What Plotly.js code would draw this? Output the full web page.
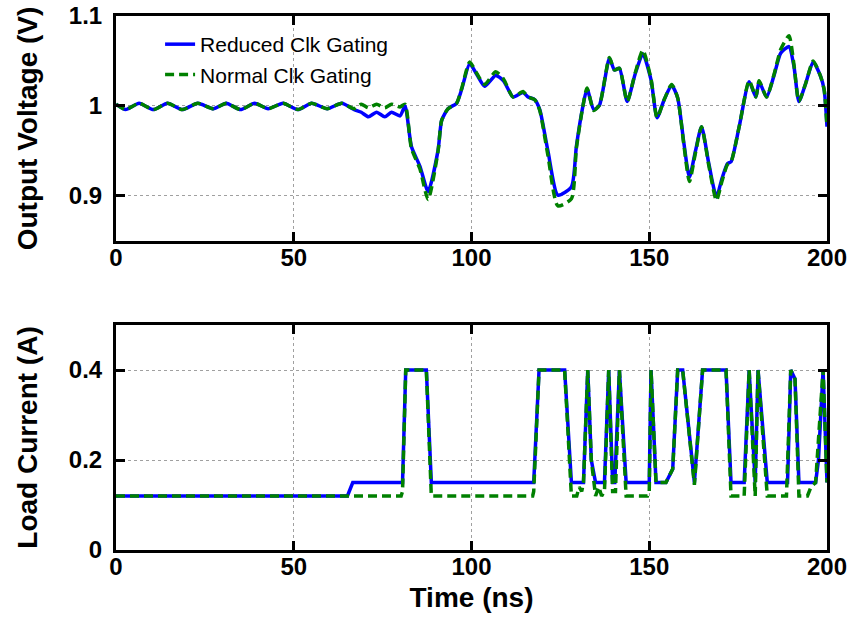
<!DOCTYPE html>
<html><head><meta charset="utf-8">
<script src="https://cdn.plot.ly/plotly-3.0.1.min.js"></script>
<style>html,body{margin:0;padding:0;background:#fff}#chart{width:853px;height:619px}</style>
</head><body><div id="chart"></div>
<script>
// ---- Data ----
const timeV = [0, 2.7, 6.5, 10.5, 14.5, 18.7, 23, 27.4, 31, 35, 39, 42.8, 47, 51.2, 55, 59.4, 63.5, 67, 69, 71, 73.3, 75.6, 77.5, 79.9, 81.3, 83.1, 85.5, 87.8, 90.6, 91.6, 93.4, 95.8, 97.2, 99.5, 101.5, 103.7, 106.8, 109, 111.7, 114.5, 115.9, 117.8, 119.2, 121.5, 124.3, 128.1, 129.5, 131.3, 132.5, 134.4, 136, 138.8, 140.2, 141.6, 143.8, 146, 148.2, 150.5, 152.2, 154.2, 156.3, 158, 159.7, 161.3, 163, 164.7, 166.8, 168.9, 170.5, 172, 173, 175.3, 178.1, 180, 180.9, 183, 185.1, 187, 189.3, 190.7, 192.1, 194, 196.1, 198.2, 199.2, 200];
const voltageReduced = [1.002, 0.996, 1.003, 0.996, 1.003, 0.996, 1.003, 0.997, 1.003, 0.996, 1.003, 0.997, 1.003, 0.996, 1.003, 0.997, 1.003, 0.996, 0.993, 0.988, 0.993, 0.988, 0.993, 0.989, 1.000, 0.955, 0.933, 0.905, 0.951, 0.984, 0.997, 1.003, 1.018, 1.047, 1.035, 1.022, 1.034, 1.028, 1.010, 1.015, 1.010, 1.007, 0.996, 0.950, 0.901, 0.910, 0.955, 0.999, 1.019, 0.996, 1.001, 1.053, 1.040, 1.042, 1.005, 1.035, 1.058, 1.029, 0.987, 1.007, 1.023, 1.009, 0.960, 0.921, 0.950, 0.977, 0.935, 0.899, 0.920, 0.936, 0.938, 0.977, 1.027, 1.010, 1.027, 1.010, 1.034, 1.059, 1.066, 1.044, 1.005, 1.025, 1.049, 1.033, 1.018, 0.977];
const voltageNormal = [1.002, 0.996, 1.003, 0.996, 1.003, 0.996, 1.003, 0.997, 1.003, 0.996, 1.003, 0.997, 1.003, 0.996, 1.003, 0.997, 1.003, 0.997, 1.002, 0.998, 1.002, 0.998, 1.002, 0.999, 1.002, 0.953, 0.930, 0.896, 0.950, 0.984, 0.997, 1.003, 1.019, 1.049, 1.036, 1.024, 1.038, 1.030, 1.010, 1.016, 1.010, 1.007, 0.995, 0.945, 0.889, 0.897, 0.953, 0.999, 1.020, 0.995, 1.001, 1.054, 1.040, 1.042, 1.005, 1.036, 1.062, 1.030, 0.987, 1.007, 1.024, 1.009, 0.958, 0.916, 0.948, 0.977, 0.933, 0.895, 0.917, 0.935, 0.938, 0.977, 1.028, 1.010, 1.028, 1.010, 1.035, 1.063, 1.078, 1.046, 1.005, 1.025, 1.050, 1.033, 1.018, 0.977];

const timeIReduced = [0, 65.1, 66.6, 80.6, 81.5, 87.3, 88.7, 117.5, 119, 126.2, 128.1, 131.5, 132.7, 133.7, 134.9, 137.4, 138.6, 139.7, 140.3, 141.6, 143.5, 150, 150.5, 151.9, 154.7, 156.6, 158, 159.4, 162.7, 165, 171.6, 173, 176.7, 178.1, 179.8, 180.6, 183.2, 188.9, 189.8, 191, 192.1, 196.8, 197.6, 198.9, 200];
const currentReduced = [0.12, 0.12, 0.15, 0.15, 0.40, 0.40, 0.15, 0.15, 0.40, 0.40, 0.15, 0.15, 0.40, 0.20, 0.15, 0.15, 0.40, 0.15, 0.15, 0.40, 0.15, 0.15, 0.40, 0.15, 0.15, 0.18, 0.40, 0.40, 0.15, 0.40, 0.40, 0.15, 0.15, 0.40, 0.15, 0.40, 0.15, 0.15, 0.40, 0.38, 0.15, 0.15, 0.20, 0.40, 0.15];
const timeINormal = [0, 80.2, 80.6, 81.5, 87.3, 88.7, 117.2, 117.5, 119.0, 126.2, 128.1, 129.6, 130.3, 131.0, 131.5, 132.7, 133.7, 134.9, 135.8, 136.6, 137.4, 138.6, 139.7, 140.5, 141.6, 143.5, 149.5, 150.0, 150.5, 151.9, 154.7, 156.6, 158.0, 159.4, 162.7, 165.0, 171.6, 173.0, 176.7, 178.1, 179.8, 180.6, 183.2, 188.6, 189.8, 191.0, 192.1, 194.5, 195.5, 196.8, 198.9, 200];
const currentNormal = [0.12, 0.12, 0.13, 0.40, 0.40, 0.12, 0.12, 0.13, 0.40, 0.40, 0.12, 0.12, 0.14, 0.13, 0.15, 0.40, 0.20, 0.12, 0.14, 0.12, 0.13, 0.40, 0.13, 0.13, 0.40, 0.12, 0.12, 0.13, 0.40, 0.15, 0.15, 0.18, 0.40, 0.40, 0.145, 0.40, 0.40, 0.12, 0.12, 0.40, 0.12, 0.40, 0.12, 0.12, 0.40, 0.38, 0.12, 0.12, 0.14, 0.15, 0.40, 0.15];

const seriesNames = ['Reduced Clk Gating', 'Normal Clk Gating'];
const xTicks = [0, 50, 100, 150, 200];
const vTicks = [0.9, 1, 1.1];
const vTickText = ['0.9', '1', '1.1'];
const iTicks = [0, 0.2, 0.4];
const iTickText = ['0', '0.2', '0.4'];

// ---- Styles ----
const FONT = 'Liberation Sans, Arial, Helvetica, sans-serif';
const BLUE = '#0000ff', GREEN = '#008000';
const lineBlue = {color: BLUE, width: 3.5};
const lineGreen = {color: GREEN, width: 3.5, dash: '9px,5px'};

const traces = [
  {x: timeV, y: voltageReduced, name: seriesNames[0], type: 'scatter', mode: 'lines',
   line: Object.assign({shape: 'spline', smoothing: 0.6}, lineBlue), xaxis: 'x', yaxis: 'y', legendgroup: 'a'},
  {x: timeV, y: voltageNormal, name: seriesNames[1], type: 'scatter', mode: 'lines',
   line: Object.assign({shape: 'spline', smoothing: 0.6}, lineGreen), xaxis: 'x', yaxis: 'y', legendgroup: 'b'},
  {x: timeIReduced, y: currentReduced, name: seriesNames[0], type: 'scatter', mode: 'lines',
   line: lineBlue, xaxis: 'x2', yaxis: 'y2', showlegend: false, legendgroup: 'a'},
  {x: timeINormal, y: currentNormal, name: seriesNames[1], type: 'scatter', mode: 'lines',
   line: lineGreen, xaxis: 'x2', yaxis: 'y2', showlegend: false, legendgroup: 'b'}
];

function axisBase() {
  return {
    showline: true, linecolor: 'black', linewidth: 3, mirror: 'ticks',
    ticks: 'inside', ticklen: 9, tickwidth: 3, tickcolor: 'black',
    showgrid: true, gridcolor: '#a0a0a0', griddash: 'dot', gridwidth: 1,
    zeroline: false, automargin: false,
    tickfont: {family: FONT, size: 24, color: 'black', weight: 'bold'}
  };
}
const titleFont = {family: FONT, size: 28, color: 'black', weight: 'bold'};

const layout = {
  width: 853, height: 619,
  margin: {l: 116, r: 26, t: 16, b: 69},
  paper_bgcolor: 'white', plot_bgcolor: 'white',
  showlegend: true,
  legend: {x: 0.062, y: 0.985, xanchor: 'left', yanchor: 'top', bgcolor: 'rgba(0,0,0,0)',
           font: {family: FONT, size: 21, color: 'black'}, tracegroupgap: 0},
  xaxis: Object.assign(axisBase(), {domain: [0, 1], anchor: 'y', range: [0, 200], tickvals: xTicks, ticklabelstandoff: -7}),
  yaxis: Object.assign(axisBase(), {domain: [0.5787, 1], anchor: 'x', range: [0.85, 1.1], tickvals: vTicks, ticktext: vTickText,
           ticklabelstandoff: 6, title: {text: 'Output Voltage (V)', font: titleFont, standoff: 24}}),
  xaxis2: Object.assign(axisBase(), {domain: [0, 1], anchor: 'y2', range: [0, 200], tickvals: xTicks, ticklabelstandoff: -7,
           title: {text: 'Time (ns)', font: titleFont, standoff: 9}}),
  yaxis2: Object.assign(axisBase(), {domain: [0, 0.4213], anchor: 'x2', range: [0, 0.5], tickvals: iTicks, ticktext: iTickText,
           ticklabelstandoff: 6, title: {text: 'Load Current (A)', font: titleFont, standoff: 24}})
};

Plotly.newPlot('chart', traces, layout, {displayModeBar: false, staticPlot: true});
</script>
</body></html>
